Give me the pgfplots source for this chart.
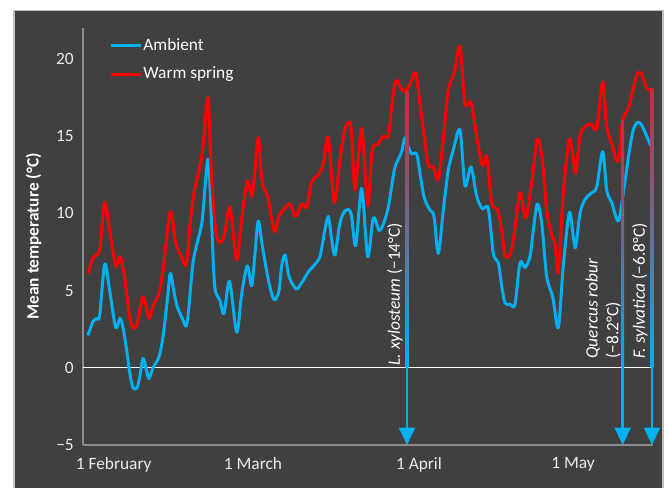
\documentclass[border=0pt]{standalone}
\usepackage{fontspec}
\setmainfont{Carlito}
\usepackage{pgfplots}
\usepackage{pgfplotstable}
\pgfplotsset{compat=1.18}
\usetikzlibrary{arrows.meta}
\definecolor{bgdark}{HTML}{404040}
\definecolor{ambient}{HTML}{00B0F0}
\definecolor{warm}{HTML}{FF0000}
\definecolor{axisgray}{HTML}{8C8C8C}
\definecolor{bordergray}{HTML}{BFBFBF}
\definecolor{arrowtop}{HTML}{D0283C}

\pgfplotstableread{
x y
88 2.1
93 3.0
96.3 3.2
99.7 3.4
104.7 6.7
109.7 5.0
115.7 2.6
120.3 3.2
124.7 2.0
129.7 -0.3
133 -1.3
137 -1.3
139.7 -0.6
143 0.6
146.3 -0.1
149 -0.7
153 0.0
159 0.7
163 2.0
167 4.2
170.3 6.1
173.7 5.0
177 4.0
182.3 3.2
186.3 2.7
189 4.0
193 6.8
198 8.3
202.3 9.6
208 13.5
211.3 9.8
214.7 5.3
219.7 4.4
224 3.5
229.5 5.6
236.7 2.3
241.7 4.8
247.3 6.6
251.7 5.3
255 7.4
258.3 9.5
262.3 7.9
267.7 5.9
271.7 4.8
275 4.4
279 5.0
281.7 6.6
285 7.3
288.3 6.1
291.7 5.5
296.7 5.1
301.7 5.5
308.3 6.2
315 6.7
320 7.2
324.3 8.7
328.3 9.8
331.7 8.3
335 7.3
340 9.4
345.7 10.2
351 10.0
355.7 7.9
361.7 11.6
367.7 7.2
373.3 9.7
379 8.9
383.3 9.3
388.3 10.4
394.3 12.8
398.3 13.5
401.7 14.0
405 14.9
408.3 14.3
411.7 13.85
416.7 13.85
420 12.6
424.3 11.0
430 10.2
434 9.8
438.3 7.4
443.3 10.2
448.3 12.8
453.3 14.1
460 15.4
465 11.8
471 13.0
476.7 11.1
482.3 10.3
488.3 10.3
493.3 7.4
498.3 6.8
501.7 5.3
505 4.2
510 4.1
515 4.1
520 6.8
525 6.5
530 7.2
533.3 8.9
537.3 10.6
541.7 9.4
546.7 5.9
552.7 4.6
558.3 2.6
563.3 6.6
569.3 10.05
573.3 8.5
575.7 7.8
580 10.0
585 10.9
591 11.3
596.7 11.7
602.7 14.0
606.7 11.5
611.7 10.7
618.3 9.5
623.3 11.3
629 13.9
633.3 15.4
637.7 15.9
641.7 15.7
646.7 15.0
650.7 14.4
}\ambienttable

\pgfplotstableread{
x y
88 6.1
93 7.1
98 7.4
100.3 7.9
104.7 10.7
109.7 8.9
115.7 6.6
120.3 7.2
124.7 5.8
129.7 3.3
133 2.6
137 2.8
143 4.6
149 3.2
153 4.0
159 4.8
163 6.3
170.3 10.1
175.7 8.1
181.3 7.2
186.3 6.7
190.3 9.4
194 11.3
199.7 13.0
203 14.3
208 17.5
211.3 12.6
215.7 8.9
220.3 8.1
224.7 8.7
230 10.4
236.7 7.0
241.7 9.6
247.3 12.1
251.7 11.1
255 12.8
258.3 14.9
262.3 12.0
267.7 11.1
271.7 9.6
275 8.8
279 9.8
284.3 10.3
290 10.6
295.7 9.8
301.7 10.6
306.7 10.4
311.7 12.0
318.3 12.5
323.3 13.2
328.3 14.9
334.3 10.7
340 13.5
345.7 15.6
351 15.6
355 11.5
361.7 15.5
367.7 10.5
372.3 14.1
378.3 14.5
383.3 15.0
388.3 15.0
391.7 16.9
395.7 18.6
401 18.1
405.7 17.9
411 18.5
415.7 19.1
420 17.1
424.3 15.0
428.3 13.1
433.3 13.0
438.3 12.2
443.3 14.8
448.3 18.0
454.3 19.1
460 20.8
465 17.1
471 17.2
476.7 15.0
482.3 13.1
486.7 13.7
491.7 10.7
497.7 10.2
501.7 8.9
505 7.3
510 7.3
514.3 8.7
520 11.35
525.7 9.7
531.7 12.0
537.3 14.8
542.3 13.5
546.7 10.2
551.7 8.6
555 8.1
558.3 6.2
563.3 11.3
569.3 14.8
573.3 13.5
575.7 12.6
580 15.0
585 15.6
591 15.8
596.7 15.5
602.7 18.5
606.7 15.6
611.7 14.5
618.3 13.35
622.3 15.9
629 16.9
633.3 18.1
637.7 19.1
641.7 19.0
646.7 18.1
651.7 18.0
}\warmtable

\newcommand{\gradarrow}[2]{%
  \shade[top color=arrowtop, bottom color=ambient]
    ([xshift=-1pt]axis cs:#1,#2) rectangle ([xshift=1pt]axis cs:#1,0);
  \draw[ambient, line width=2pt, -{Triangle[width=12pt,length=13pt]}]
    (axis cs:#1,0) -- (axis cs:#1,-5);
}

\begin{document}
\begin{tikzpicture}[font=\fontsize{13}{15.6}\selectfont]
\useasboundingbox (-62.25pt,-32.25pt) rectangle (438.75pt,333.75pt);
\fill[bgdark, draw=bordergray, line width=1.2pt] (-51.75pt,-40pt) rectangle (435pt,325.9pt);
\begin{axis}[
  at={(0pt,0pt)}, anchor=south west,
  scale only axis, width=427.5pt, height=312.75pt,
  xmin=83, xmax=653, ymin=-5, ymax=22,
  axis x line*=bottom, axis y line*=left,
  axis line style={draw=axisgray, line width=0.9pt, -},
  major tick length=0pt,
  xtick={113.7,253,419,573},
  xticklabels={1 February,1 March,1 April,1 May},
  ytick={-5,0,5,10,15,20},
  yticklabels={−5,0,5,10,15,20},
  extra y ticks={0}, extra y tick labels={},
  extra y tick style={grid=major, major grid style={white, line width=0.75pt}},
  tick label style={text=white!92!black, inner sep=0pt},
  yticklabel style={xshift=-6.75pt},
  xticklabel style={yshift=-9pt},
  ylabel={\bfseries Mean temperature (°C)},
  every axis y label/.style={at={(axis description cs:-0.0868,0.5)}, rotate=90, anchor=center, text=white},
  legend style={at={(axis cs:109,21.4)}, anchor=north west, draw=none, fill=none,
    text=white, inner sep=0pt, row sep=9.5pt,
    nodes={inner sep=0pt, text height=9.5pt, text depth=2.5pt},
    /tikz/every odd column/.style={column sep=1pt}},
  legend cell align=left,
  legend image code/.code={\draw[#1, line width=2.1pt] (0pt,0pt) -- (22.5pt,0pt);},
  clip=false,
]
\addplot[ambient, line width=2.25pt, smooth, line join=round] table[x=x,y=y] {\ambienttable};
\addlegendentry{Ambient}
\addplot[warm, line width=2.25pt, smooth, line join=round] table[x=x,y=y] {\warmtable};
\addlegendentry{Warm spring}

\node[rotate=90, anchor=south west, inner sep=0pt, text=white] at (axis cs:403,0.13) {\textit{L. xylosteum} (−14°C)};
\node[rotate=90, anchor=south west, inner sep=0pt, align=left, text=white] at (axis cs:621,0.58) {\textit{Quercus robur}\\(−8.2°C)};
\node[rotate=90, anchor=south west, inner sep=0pt, text=white] at (axis cs:648,0.58) {\textit{F. sylvatica} (−6.8°C)};

\gradarrow{407}{17.9}
\gradarrow{622.7}{16.0}
\gradarrow{652}{18.1}
\end{axis}
\end{tikzpicture}
\end{document}
